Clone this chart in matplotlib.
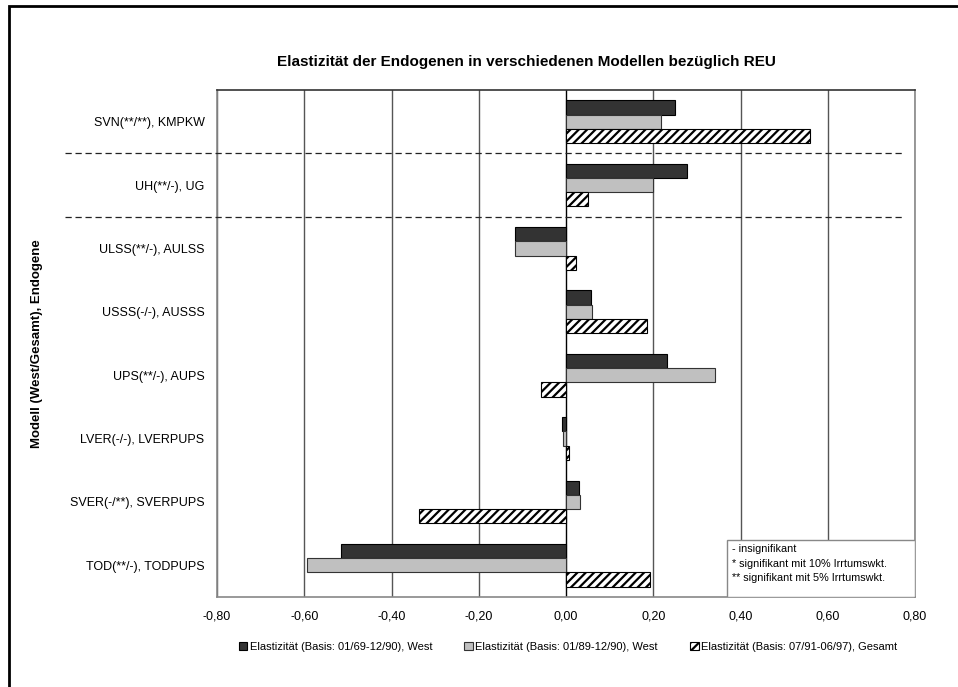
import numpy as np
import matplotlib
matplotlib.use('Agg')
from matplotlib import pyplot as plt
from matplotlib.lines import Line2D
from matplotlib.patches import Rectangle
import matplotlib.transforms as mtransforms

plt.rcParams['font.family'] = ['Liberation Sans', 'DejaVu Sans']
plt.rcParams['hatch.linewidth'] = 1.6

categories = ['SVN(**/**), KMPKW', 'UH(**/-), UG', 'ULSS(**/-), AULSS', 'USSS(-/-), AUSSS',
              'UPS(**/-), AUPS', 'LVER(-/-), LVERPUPS', 'SVER(-/**), SVERPUPS', 'TOD(**/-), TODPUPS']
west_69 = [0.250, 0.277, -0.117, 0.058, 0.232, -0.009, 0.029, -0.515]
west_89 = [0.218, 0.200, -0.117, 0.060, 0.342, -0.008, 0.033, -0.593]
gesamt = [0.559, 0.051, 0.023, 0.185, -0.058, 0.008, -0.336, 0.192]
series_labels = ['Elastizität (Basis: 01/69-12/90), West',
                 'Elastizität (Basis: 01/89-12/90), West',
                 'Elastizität (Basis: 07/91-06/97), Gesamt']
xticks = [-0.8, -0.6, -0.4, -0.2, 0.0, 0.2, 0.4, 0.6, 0.8]

fig = plt.figure(figsize=(9.58, 6.87), dpi=100)
ax = fig.add_axes([217/958, 1-597/687, (915-217)/958, (597-90)/687])

y = np.arange(len(categories))
h = 0.225
b1 = ax.barh(y - h, west_69, height=h, color='#333333', edgecolor='black', linewidth=0.8, label=series_labels[0], zorder=3)
b2 = ax.barh(y, west_89, height=h, color='#c0c0c0', edgecolor='#333333', linewidth=0.8, label=series_labels[1], zorder=3)
b3 = ax.barh(y + h, gesamt, height=h, color='white', edgecolor='black', hatch='////', linewidth=0.8, label=series_labels[2], zorder=3)

ax.set_xlim(-0.8, 0.8)
ax.set_ylim(len(categories) - 0.5, -0.5)
ax.set_xticks(xticks)
ax.set_xticklabels([('%.2f' % t).replace('.', ',') for t in xticks], fontsize=9)
ax.set_yticks(y)
ax.set_yticklabels(categories, fontsize=9)
ax.tick_params(length=0, pad=9)
ax.tick_params(axis='x', pad=10)
for t in xticks:
    ax.axvline(t, color='#555555' if t != 0 else 'black', linewidth=1.0, zorder=1)
for s in ['left', 'bottom', 'right']:
    ax.spines[s].set_color('#888888')
    ax.spines[s].set_linewidth(1.2)
ax.spines['top'].set_color('#333333')
ax.spines['top'].set_linewidth(1.2)

ax.set_ylabel('Modell (West/Gesamt), Endogene', fontsize=9.5, fontweight='bold')
ax.yaxis.set_label_coords(-0.25, 0.5)
fig.text(526/958, 1-62/687, 'Elastizität der Endogenen in verschiedenen Modellen bezüglich REU',
         fontsize=11, fontweight='bold', ha='center', va='center')

# dashed separators between groups
tr = mtransforms.blended_transform_factory(fig.transFigure, ax.transData)
for yy in [0.5, 1.5]:
    fig.add_artist(Line2D([65/958, 902/958], [yy, yy], transform=tr, color='#222222',
                          linewidth=0.9, linestyle=(0, (5, 3))))

# significance note
ax.add_patch(Rectangle((0.73, 0.0), 0.27, 0.113, transform=ax.transAxes, facecolor='white',
                       edgecolor='#888888', linewidth=1.0, zorder=4))
ax.text(0.738, 0.104, '- insignifikant\n* signifikant mit 10% Irrtumswkt.\n** signifikant mit 5% Irrtumswkt.',
        transform=ax.transAxes, fontsize=7.8, va='top', ha='left', linespacing=1.55, zorder=5)

leg = fig.legend(handles=[b1, b2, b3], loc='center', bbox_to_anchor=(568/958, 1-647/687), ncol=3,
                 fontsize=8, frameon=False, handlelength=0.8, handleheight=0.8,
                 handletextpad=0.2, columnspacing=2.9)

# outer frame (left and top visible)
fig.add_artist(Rectangle((8.5/958, -0.05), 1.2, 1-6/687+0.05, transform=fig.transFigure,
                         fill=False, edgecolor='black', linewidth=2.0))

fig.savefig('out.png', dpi=100)
